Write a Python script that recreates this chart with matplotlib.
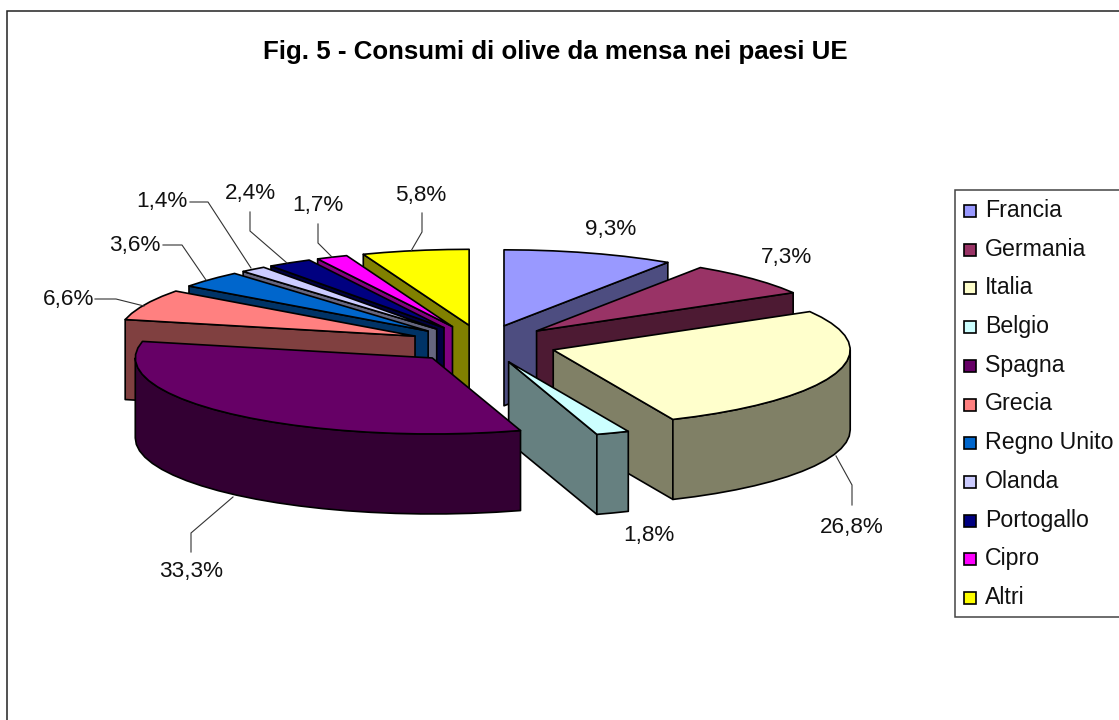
import numpy as np
import matplotlib
matplotlib.use("Agg")
import matplotlib.pyplot as plt
from matplotlib.patches import Polygon, Rectangle

plt.rcParams['font.family'] = ['Liberation Sans', 'DejaVu Sans']

title = "Fig. 5 - Consumi di olive da mensa nei paesi UE"
paesi = ["Francia", "Germania", "Italia", "Belgio", "Spagna", "Grecia",
         "Regno Unito", "Olanda", "Portogallo", "Cipro", "Altri"]
quote = [9.3, 7.3, 26.8, 1.8, 33.3, 6.6, 3.6, 1.4, 2.4, 1.7, 5.8]

top_colors = ["#9999FF", "#993366", "#FFFFCC", "#CCFFFF", "#660066", "#FF8080",
              "#0066CC", "#CCCCFF", "#000080", "#FF00FF", "#FFFF00"]
side_colors = ["#4D4D80", "#4D1A33", "#808066", "#668080", "#330033", "#804040",
               "#003366", "#666680", "#000040", "#800080", "#808000"]

# back to front
draw_order = [0, 10, 9, 8, 7, 6, 5, 1, 2, 3, 4]

# pie projection, in pixels of the picture
cx0, cy0 = 482.6, 344.0
rx, ry = 297.0, 76.0
depth = 80.0
explode = 0.25

label_pos = [(611, 229), (786, 258), (852, 528), (649, 536), (191, 572), (69, 300),
             (135, 245), (162, 202), (250, 194), (318, 206), (421, 196)]
leaders = {
    2: [(852, 505), (852, 485), (836, 456)],
    4: [(191, 552), (191, 533), (233, 497)],
    5: [(95, 299), (116, 299), (144, 306)],
    6: [(163, 245), (182, 245), (206, 280)],
    7: [(190, 202), (208, 202), (251, 268)],
    8: [(250, 212), (250, 231), (287, 263)],
    9: [(318, 224), (318, 243), (332, 257)],
    10: [(422, 213), (422, 232), (411, 251)],
}

fig = plt.figure(figsize=(11.19, 7.2), dpi=100)
ax = fig.add_axes([0, 0, 1, 1])
ax.set_xlim(0, 1119)
ax.set_ylim(720, 0)
ax.axis('off')

# chart frame runs off the right and bottom of the picture
ax.add_patch(Rectangle((7, 11), 1130, 730, fc='white', ec='#222222', lw=1.1))

edges = np.cumsum([0] + quote) / sum(quote) * 360.0


def point(cx, cy, ang, dz=0.0):
    a = np.radians(ang)
    return np.column_stack([cx + rx * np.sin(a), cy - ry * np.cos(a) + dz])


def poly(pts, color):
    ax.add_patch(Polygon(pts, closed=True, fc=color, ec='black', lw=1.2, joinstyle='round'))


for i in draw_order:
    a0, a1 = edges[i], edges[i + 1]
    mid = np.radians((a0 + a1) / 2)
    cx = cx0 + explode * rx * np.sin(mid)
    cy = cy0 - explode * ry * np.cos(mid)
    centre = np.array([[cx, cy]])
    low = np.array([[cx, cy + depth]])

    # radial walls turned to the viewer
    if a1 <= 180:
        out = point(cx, cy, np.array([a1]))
        poly(np.vstack([centre, out, out + [0, depth], low]), side_colors[i])
    if a0 >= 180:
        out = point(cx, cy, np.array([a0]))
        poly(np.vstack([centre, out, out + [0, depth], low]), side_colors[i])

    # outer rim, front half of the ellipse only
    r0, r1 = max(a0, 90), min(a1, 270)
    if r1 > r0:
        angs = np.linspace(r0, r1, int((r1 - r0) / 5) + 2)
        poly(np.vstack([point(cx, cy, angs), point(cx, cy, angs[::-1], depth)]), side_colors[i])

    angs = np.linspace(a0, a1, int((a1 - a0) / 5) + 2)
    poly(np.vstack([centre, point(cx, cy, angs)]), top_colors[i])

for i, pts in leaders.items():
    xs, ys = zip(*pts)
    ax.plot(xs, ys, color='#333333', lw=0.8, solid_joinstyle='miter')

for q, (x, y) in zip(quote, label_pos):
    ax.text(x, y, f"{q:.1f}%".replace(".", ","), ha='center', va='center',
            fontsize=16.2, color='#111111')

ax.text(555, 52, title, ha='center', va='center', fontsize=18.6, fontweight='bold')

# legend box also leaves the picture on the right
ax.add_patch(Rectangle((955, 190), 200, 427, fc='white', ec='#444444', lw=1.1))
for k, name in enumerate(paesi):
    y = 211 + k * 38.7
    ax.add_patch(Rectangle((964, y - 6), 12, 12, fc=top_colors[k], ec='black', lw=1.2))
    ax.text(985, y + 6, name, ha='left', va='baseline', fontsize=16.7, color='#111111')

fig.savefig("out.png", dpi=100)
